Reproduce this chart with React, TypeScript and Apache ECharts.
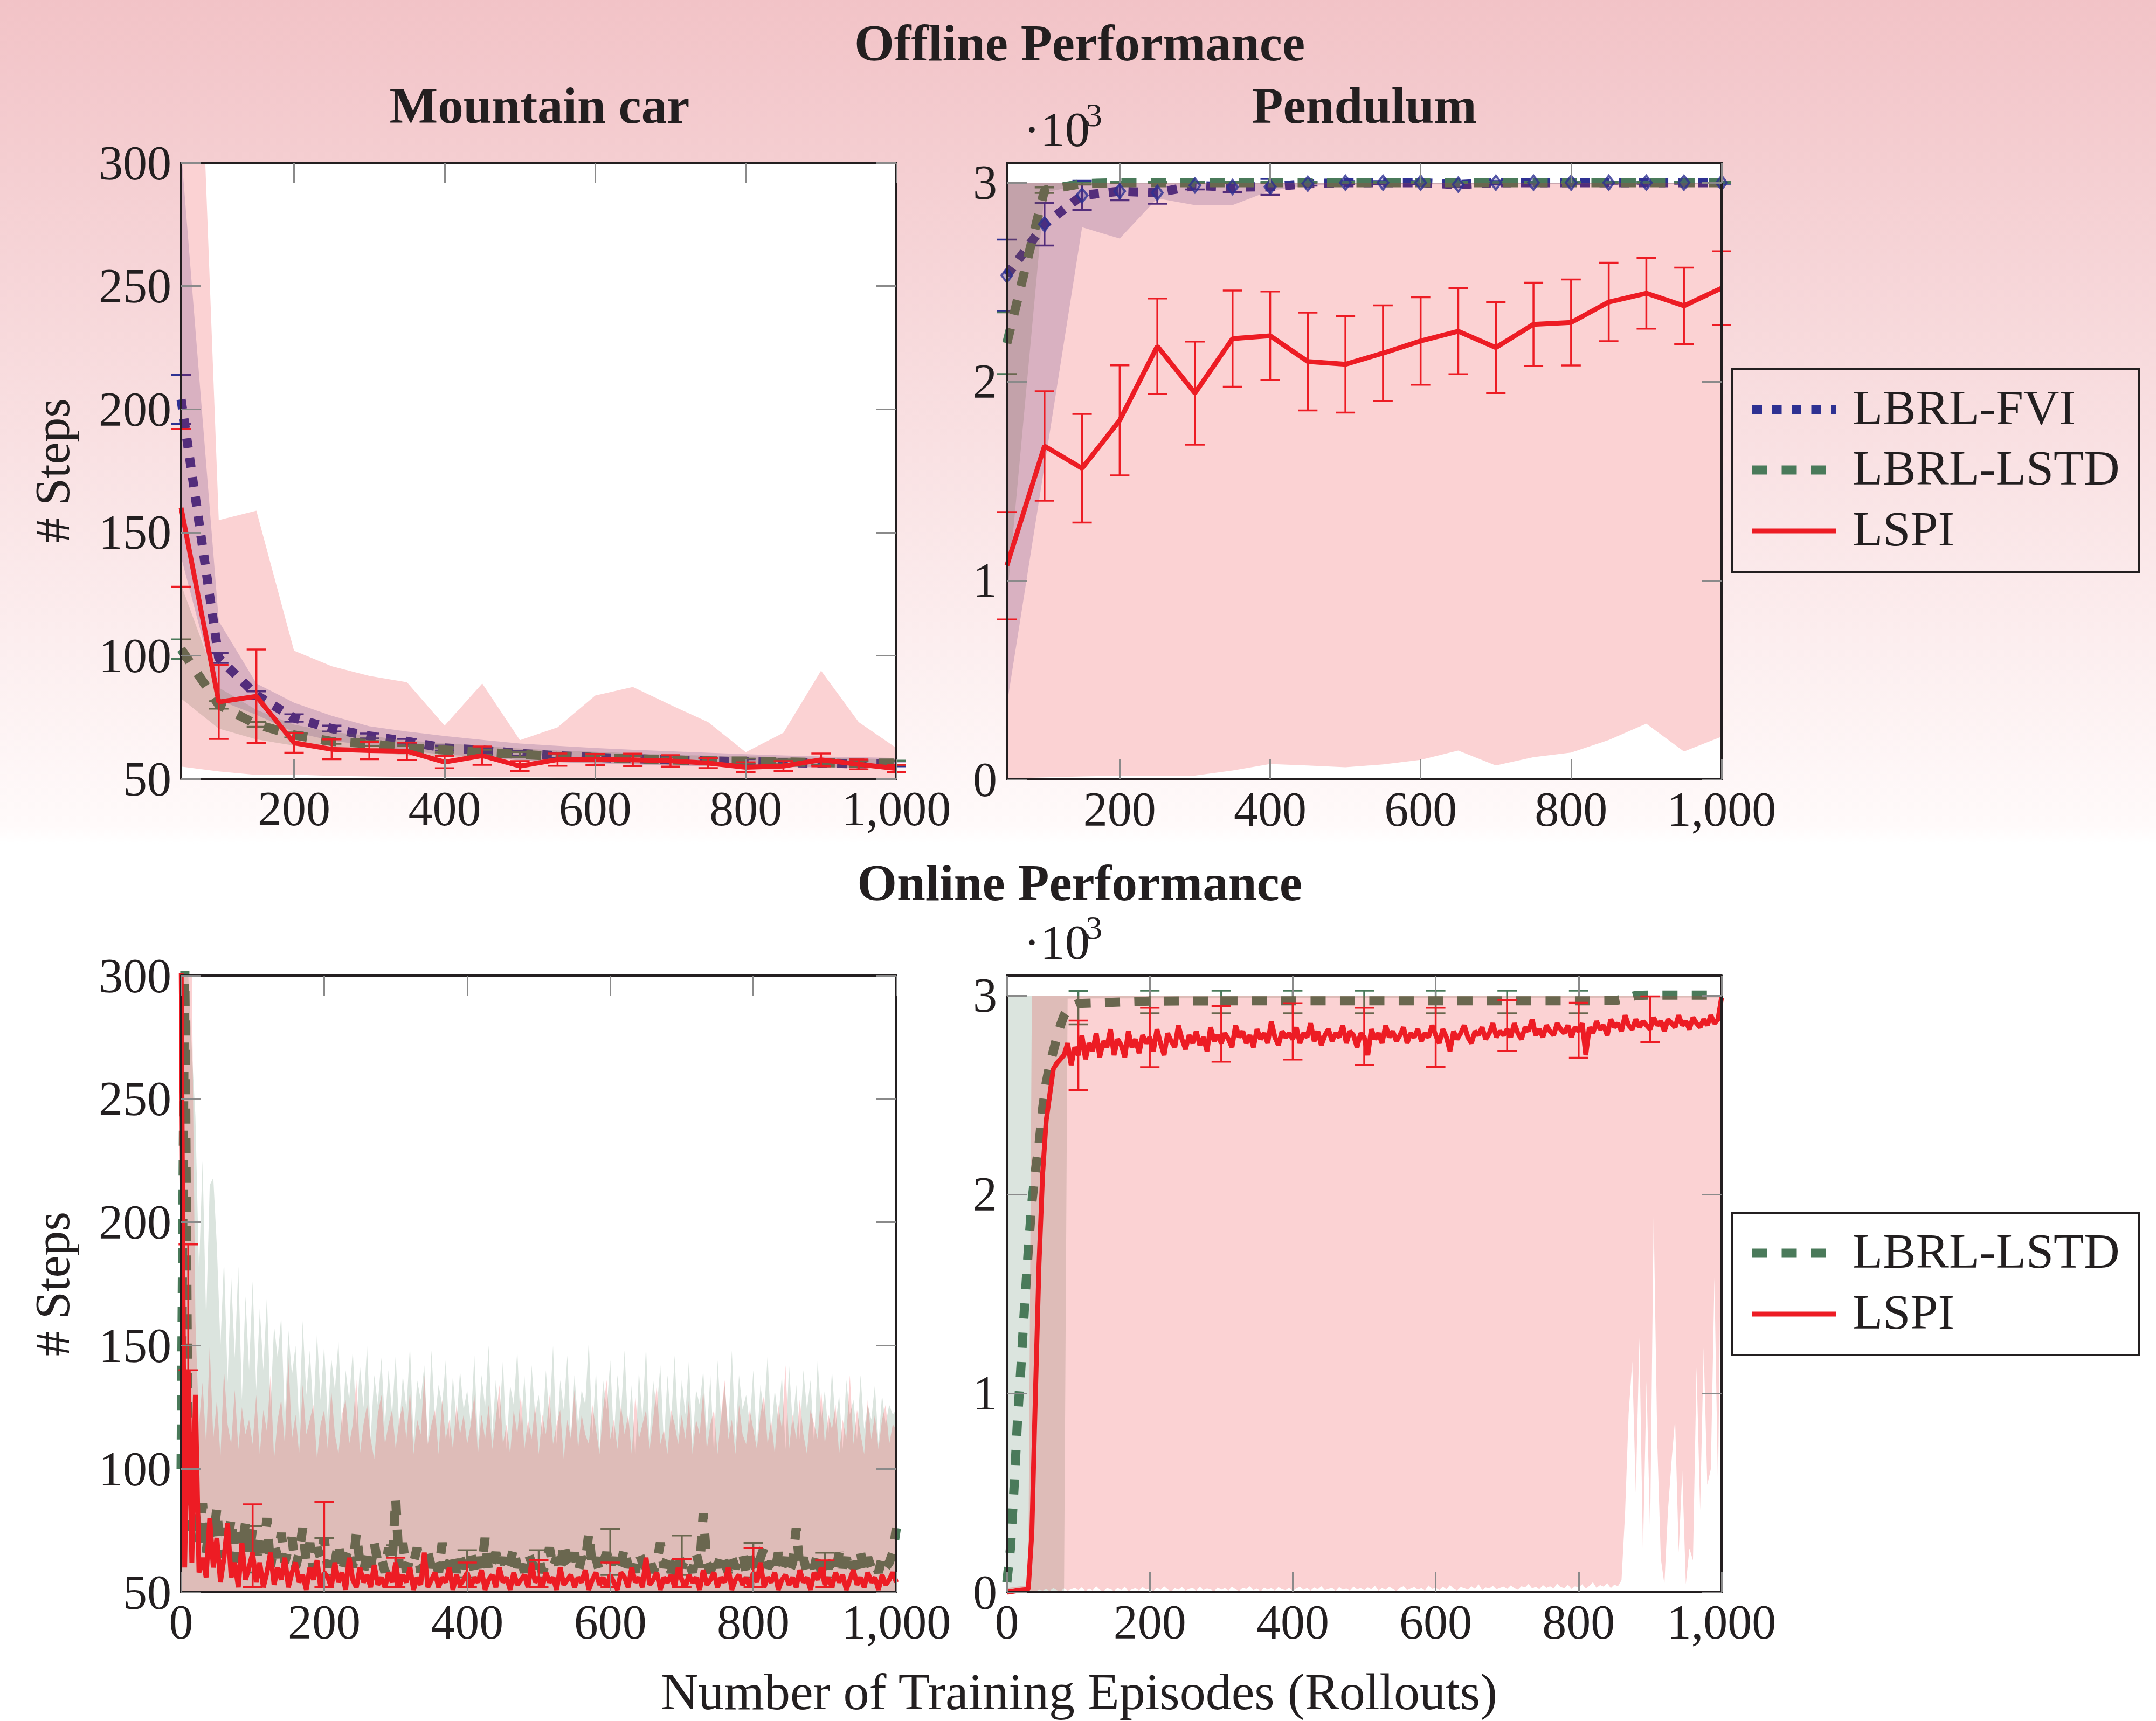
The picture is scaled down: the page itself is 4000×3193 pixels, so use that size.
import React, { useEffect, useRef } from "react";
import * as echarts from "echarts";

const INK = "#231f20";
const NAVY = "#2e3192";
const GREEN = "#4a7a5a";
const RED = "#ed1c24";
const TICK_GRAY = "#8a8a8a";
const SERIF = '"Liberation Serif", "Times New Roman", serif';
const FVI_BAND = "rgba(46,49,146,0.2)";
const LSTD_BAND = "rgba(74,122,90,0.2)";
const LSPI_BAND = "rgba(237,28,36,0.2)";

// ---------- Offline (x = 50..1000 step 50) ----------
const offX = [50, 100, 150, 200, 250, 300, 350, 400, 450, 500, 550, 600, 650, 700, 750, 800, 850, 900, 950, 1000];

// Mountain car, offline
const mcFvi = [204, 99, 84, 74.7, 70.4, 67.4, 65.2, 62.5, 61.7, 60.3, 59.4, 58.7, 58.2, 57.7, 57.3, 57, 56.6, 56.4, 56.1, 56.1];
const mcFviErr = [10, 2, 1.5, 1.5, 1.2, 1, 1, 1, 1, 1, 1, 1, 1, 1, 1, 1, 1, 1, 1, 1];
const mcFviUp = [305, 114, 88.7, 80.9, 75.6, 71.3, 69.2, 67.4, 65.8, 64.3, 63.4, 62.5, 61.8, 61.2, 60.6, 60, 59.5, 59.1, 58.8, 58.5];
const mcFviLo = [140, 82, 76, 69, 65.5, 63.5, 61.5, 59.8, 59, 57.5, 56.8, 56.2, 55.8, 55.4, 55.2, 55, 54.8, 54.6, 54.4, 54.2];
const mcLstd = [102.6, 80, 72.1, 67.8, 65.2, 64.3, 62.5, 61.7, 60.8, 59.9, 59.1, 58.7, 58.2, 57.7, 57.3, 57.2, 56.9, 56.6, 56.4, 56.4];
const mcLstdErr = [4, 1.5, 1, 1, 1, 1, 1, 1, 1, 1, 1, 1, 1, 1, 1, 1, 1, 1, 1, 1];
const mcLstdUp = [128.8, 87, 78, 72, 69, 67.5, 65.5, 64.5, 63.3, 62.3, 61.5, 61, 60.4, 59.8, 59.4, 59.2, 58.8, 58.5, 58.2, 58];
const mcLstdLo = [82.6, 70.4, 66, 63.5, 61.5, 61, 59.5, 58.8, 58.3, 57.6, 56.8, 56.5, 56, 55.6, 55.2, 55.2, 55, 54.7, 54.6, 54.6];
const mcLspi = [160, 81.2, 83.5, 64.6, 62, 61.5, 61.2, 56.8, 59.4, 55.2, 57.8, 57.8, 57.7, 57.3, 56.4, 54.7, 55.2, 57.7, 55.9, 54.2];
const mcLspiErr = [32, 15, 19, 4, 4, 3.5, 3.5, 2.5, 3.7, 2, 2.5, 2.3, 2.5, 2.3, 2, 2, 2, 2.6, 2, 1.5];
const mcLspiUp = [560, 155, 158.8, 102, 95.7, 91.8, 89.2, 71.6, 88.7, 65.7, 70.9, 83.8, 87.3, 80, 73, 60.8, 68.7, 93.9, 73, 62.5];
const mcLspiLo = [55, 53, 51.6, 51.7, 51.2, 51, 50.8, 50.8, 50.6, 50.6, 50.5, 50.5, 50.5, 50.5, 50.5, 50.4, 50.4, 50.3, 50.3, 50.3];

// Pendulum, offline (steps)
const pdFvi = [2534, 2791, 2936, 2957, 2949, 2986, 2978, 2979, 2995, 3000, 3000, 3000, 2990, 3000, 3000, 3000, 3000, 3000, 3000, 3000];
const pdFviErr = [180, 107, 73, 45, 55, 20, 25, 40, 10, 8, 8, 8, 10, 8, 6, 6, 6, 6, 6, 6];
const pdFviLo = [374, 1575, 2776, 2719, 2921, 2887, 2887, 2960, 2985, 2992, 2992, 2992, 2990, 2992, 2992, 2992, 2992, 2992, 2992, 2992];
const pdLstd = [2193, 2962, 2995, 3000, 3000, 3000, 3000, 3000, 3000, 3000, 3000, 3000, 3000, 3000, 3000, 3000, 3000, 3000, 3000, 3000];
const pdLstdErr = [155, 14, 5, 3, 3, 3, 3, 3, 3, 3, 3, 3, 3, 3, 3, 3, 3, 3, 3, 3];
const pdLstdLo = [900, 2950, 2990, 2995, 2995, 2995, 2995, 2995, 2995, 2995, 2995, 2995, 2995, 2995, 2995, 2995, 2995, 2995, 2995, 2995];
const pdLspi = [1074, 1676, 1564, 1805, 2178, 1942, 2216, 2230, 2101, 2087, 2143, 2204, 2253, 2171, 2288, 2297, 2400, 2444, 2381, 2470];
const pdLspiErr = [270, 275, 273, 277, 240, 259, 242, 223, 246, 243, 240, 220, 216, 229, 209, 216, 197, 178, 192, 185];
const pdLspiLo = [5, 10, 15, 19, 19, 19, 45, 77, 70, 61, 75, 98, 145, 70, 112, 135, 198, 280, 140, 215];
const pdBandUp = [3000, 3000, 3000, 3000, 3000, 3000, 3000, 3000, 3000, 3000, 3000, 3000, 3000, 3000, 3000, 3000, 3000, 3000, 3000, 3000];

// ---------- Online (sampled every 5 episodes, 0..1000) ----------
const onStep = 5;
const onX = Array.from({ length: 201 }, (_, i) => i * onStep);

// Mountain car, online
const blLstdUp = [
  310, 310, 300, 270, 243, 180, 225, 160, 215, 218, 190, 150, 185, 135, 178, 145, 182, 128, 170, 140,
  176, 132, 165, 140, 170, 125, 158, 145, 162, 120, 156, 138, 150, 118, 160, 130, 148, 122, 155, 128,
  150, 120, 145, 132, 152, 115, 140, 128, 148, 118, 142, 125, 150, 112, 138, 126, 145, 118, 140, 122,
  146, 116, 138, 124, 150, 112, 136, 128, 142, 110, 148, 120, 134, 126, 144, 112, 138, 118, 140, 124,
  132, 118, 146, 110, 138, 125, 150, 114, 136, 120, 144, 108, 134, 126, 148, 116, 138, 112, 142, 122,
  130, 114, 140, 120, 150, 110, 136, 124, 146, 112, 138, 118, 132, 126, 152, 114, 140, 108, 136, 124,
  144, 112, 138, 122, 148, 116, 134, 104, 140, 120, 150, 112, 136, 124, 142, 110, 138, 118, 146, 114,
  136, 122, 144, 110, 132, 126, 140, 114, 138, 106, 144, 120, 134, 116, 148, 112, 138, 124, 130, 118,
  140, 110, 134, 122, 146, 114, 132, 120, 138, 108, 142, 118, 134, 112, 140, 124, 136, 110, 144, 120,
  132, 114, 140, 118, 130, 108, 136, 122, 128, 112, 138, 116, 126, 120, 134, 110, 130, 118, 126, 122,
  124,
];
const blLspiUp = [
  310, 310, 310, 300, 160, 118, 135, 110, 150, 112, 128, 105, 140, 118, 110, 132, 108, 125, 114, 120,
  110, 130, 106, 124, 115, 138, 104, 120, 128, 110, 145, 112, 122, 106, 134, 114, 120, 126, 104, 118,
  124, 108, 132, 114, 106, 122, 128, 110, 118, 136, 106, 118, 126, 112, 104, 122, 130, 110, 118, 124,
  108, 120, 126, 112, 132, 106, 120, 114, 138, 110, 118, 124, 106, 128, 112, 120, 108, 126, 114, 122,
  110, 118, 130, 106, 122, 112, 126, 108, 120, 134, 110, 118, 106, 124, 114, 130, 108, 120, 112, 126,
  106, 122, 114, 130, 110, 118, 124, 104, 120, 112, 132, 108, 122, 114, 110, 126, 116, 106, 124, 136,
  112, 120, 108, 126, 114, 122, 106, 130, 112, 118, 124, 108, 120, 134, 110, 116, 106, 124, 118, 110,
  122, 112, 128, 106, 120, 114, 132, 108, 118, 124, 106, 122, 136, 112, 120, 106, 126, 114, 110, 124,
  116, 108, 122, 130, 110, 120, 106, 126, 116, 142, 108, 122, 112, 128, 114, 106, 124, 118, 112, 132,
  110, 122, 116, 126, 106, 120, 112, 138, 110, 124, 114, 106, 128, 112, 122, 108, 120, 126, 110, 118,
  116,
];
const blBandFloorX = [0, 1000];
const blBandFloor = [50, 50];
const blLstd = [
  100, 310, 90, 75, 82, 70, 86, 66, 78, 72, 84, 64, 76, 70, 80, 62, 74, 68, 78, 65,
  76, 62, 72, 66, 80, 60, 70, 64, 74, 62, 68, 72, 60, 66, 76, 62, 70, 58, 68, 64,
  72, 60, 66, 62, 70, 58, 64, 68, 60, 74, 62, 58, 66, 60, 70, 62, 64, 58, 68, 62,
  88, 60, 70, 58, 64, 62, 68, 58, 62, 66, 60, 64, 58, 70, 60, 62, 66, 58, 64, 60,
  62, 66, 58, 64, 60, 72, 58, 62, 66, 60, 64, 58, 62, 68, 60, 64, 58, 66, 62, 60,
  64, 58, 62, 68, 60, 64, 58, 70, 62, 60, 66, 58, 64, 62, 74, 60, 64, 58, 62, 66,
  60, 64, 58, 62, 68, 60, 64, 58, 66, 62, 60, 64, 58, 62, 70, 60, 64, 58, 62, 66,
  60, 64, 62, 58, 66, 60, 82, 62, 58, 64, 60, 66, 62, 58, 64, 60, 62, 66, 58, 64,
  62, 58, 64, 68, 60, 62, 58, 66, 60, 64, 58, 62, 76, 60, 64, 58, 62, 60, 66, 58,
  64, 60, 62, 58, 66, 60, 64, 58, 62, 60, 66, 58, 64, 60, 62, 58, 64, 60, 62, 66,
  76,
];
const blLspi = [
  310, 60, 140, 62, 130, 58, 64, 56, 80, 60, 72, 54, 64, 78, 56, 62, 52, 70, 55, 60,
  66, 54, 62, 52, 58, 66, 53, 60, 55, 64, 52, 58, 62, 54, 57, 51, 60, 55, 63, 52,
  58, 56, 52, 62, 54, 58, 51, 64, 55, 52, 60, 54, 57, 52, 61, 53, 56, 52, 58, 54,
  62, 52, 57, 54, 60, 51, 56, 53, 66, 52, 55, 58, 52, 56, 54, 60, 51, 57, 53, 55,
  58, 52, 56, 54, 59, 51, 55, 57, 52, 60, 54, 56, 51, 58, 53, 55, 57, 52, 62, 54,
  56, 52, 58, 54, 56, 51, 60, 53, 55, 57, 52, 56, 54, 59, 51, 55, 58, 53, 56, 52,
  57, 54, 51, 58, 56, 52, 60, 54, 56, 52, 64, 53, 55, 58, 51, 56, 54, 57, 52, 60,
  55, 52, 57, 54, 56, 51, 59, 53, 55, 58, 52, 56, 54, 60, 51, 55, 57, 53, 56, 52,
  58, 54, 62, 52, 56, 54, 58, 51, 55, 57, 53, 56, 52, 59, 54, 56, 51, 58, 55, 60,
  53, 56, 52, 58, 54, 57, 51, 55, 59, 53, 56, 52, 58, 54, 56, 51, 57, 53, 55, 58,
  54,
];
const blErrX = [100, 200, 300, 400, 500, 600, 700, 800, 900];
const blLstdErrLo = [58, 57, 57, 56, 56, 57, 57, 56, 56];
const blLstdErrHi = [76.8, 72, 69, 67, 67, 75.6, 73, 70, 66];
const blLspiErrX = [10, 100, 200, 300, 400, 500, 600, 700, 800, 900];
const blLspiErrLo = [140, 52, 52, 52, 52, 52, 52, 52, 52, 52];
const blLspiErrHi = [191, 85.6, 86.6, 64, 62, 63, 62, 63.4, 68, 62.9];

// Pendulum, online (steps)
const brLstdX = [0, 5, 10, 15, 20, 25, 30, 35, 40, 45, 50, 55, 60, 65, 70, 75, 80, 85, 90, 95, 100, 200, 300, 400, 500, 600, 700, 800, 850, 860, 870, 880, 900, 1000];
const brLstd = [50, 220, 520, 870, 1150, 1450, 1720, 1960, 2120, 2250, 2430, 2560, 2650, 2720, 2790, 2850, 2900, 2925, 2945, 2952, 2960, 2972, 2973, 2973, 2973, 2973, 2973, 2973, 2974, 2980, 2990, 3000, 3002, 3002];
const brLstdBandX = [0, 80, 85, 1000];
const brLstdBandUp = [3000, 3000, 3000, 3000];
const brLstdBandLo = [0, 0, 2985, 2990];
const brLspi = [
  0, 2, 5, 8, 10, 12, 15, 300, 1000, 1650, 2100, 2370, 2500, 2630, 2660, 2680, 2700, 2760, 2650, 2740,
  2700, 2800, 2680, 2760, 2720, 2810, 2690, 2770, 2740, 2830, 2700, 2780, 2750, 2690, 2820, 2740, 2780, 2710, 2800, 2760,
  2790, 2720, 2830, 2760, 2700, 2810, 2770, 2740, 2850, 2780, 2730, 2800, 2760, 2820, 2750, 2790, 2720, 2840, 2770, 2800,
  2760, 2810, 2780, 2740, 2850, 2790, 2820, 2760, 2800, 2740, 2830, 2780, 2810, 2760, 2870, 2790, 2750, 2820, 2790, 2810,
  2780, 2840, 2760, 2810, 2790, 2860, 2770, 2820, 2750, 2800, 2830, 2770, 2810, 2790, 2850, 2760, 2820, 2800, 2740, 2810,
  2790, 2700, 2830, 2780, 2810, 2760, 2850, 2790, 2820, 2770, 2800, 2840, 2760, 2810, 2790, 2830, 2770, 2810, 2790, 2850,
  2800, 2760, 2830, 2790, 2720, 2820, 2780, 2810, 2850, 2790, 2760, 2820, 2800, 2840, 2780, 2810, 2860, 2790, 2820, 2800,
  2830, 2790, 2860, 2810, 2780, 2840, 2820, 2880, 2800, 2830, 2790, 2850, 2820, 2800, 2860, 2830, 2810, 2850, 2790, 2840,
  2820, 2860, 2700, 2840, 2810, 2870, 2830, 2850, 2800, 2880, 2840, 2860, 2820, 2900, 2850, 2830, 2880, 2840, 2870, 2850,
  2830, 2890, 2850, 2870, 2820, 2880, 2860, 2840, 2900, 2850, 2870, 2830, 2890, 2860, 2840, 2880, 2850, 2900, 2860, 2880,
  2990,
];
const brLspiBandUpX = [0, 30, 35, 1000];
const brLspiBandUp = [20, 35, 3000, 3000];
const brLspiBandLo = [
  0, 0, 0, 0, 0, 0, 0, 0, 5, 12, 8, 15, 6, 20, 10, 4, 18, 8, 14, 22,
  10, 25, 5, 18, 8, 30, 12, 4, 20, 15, 6, 22, 10, 28, 5, 14, 20, 8, 26, 12,
  18, 6, 24, 10, 30, 14, 4, 20, 12, 26, 8, 16, 22, 6, 28, 10, 18, 14, 4, 24,
  12, 20, 8, 28, 14, 6, 22, 16, 30, 10, 18, 4, 24, 12, 20, 8, 26, 14, 10, 22,
  6, 18, 28, 12, 20, 8, 24, 14, 30, 10, 16, 22, 6, 26, 12, 18, 8, 28, 14, 20,
  10, 24, 14, 32, 8, 20, 12, 28, 16, 6, 22, 30, 10, 18, 26, 12, 20, 8, 34, 16,
  22, 10, 28, 14, 36, 18, 8, 26, 20, 12, 30, 16, 40, 10, 24, 18, 32, 14, 22, 28,
  16, 34, 20, 12, 30, 24, 42, 18, 28, 14, 36, 22, 30, 18, 44, 26, 20, 38, 16, 30,
  24, 40, 18, 32, 50, 22, 36, 28, 46, 20, 38, 30, 60, 400, 900, 1160, 500, 1280, 200, 1060,
  290, 1900, 760, 170, 40, 410, 660, 870, 200, 610, 40, 220, 160, 1130, 410, 1230, 540, 620, 1580, 520,
  2110,
];
const brErrX = [100, 200, 300, 400, 500, 600, 700, 800, 900];
const brLspiErrLo = [2524, 2639, 2667, 2678, 2651, 2640, 2720, 2687, 2766];
const brLspiErrHi = [2874, 2938, 2947, 2961, 2938, 2938, 2977, 2963, 2996];
const brLstdErrX = [100, 200, 300, 400, 500, 600, 700, 800];
const brLstdErrLo = [2855, 2910, 2910, 2910, 2910, 2910, 2910, 2910];
const brLstdErrHi = [3022, 3024, 3024, 3024, 3024, 3024, 3024, 3024];

// ---------- ticks ----------
const xTicksOffline = [200, 400, 600, 800, 1000];
const xTicksOnline = [0, 200, 400, 600, 800, 1000];
const yTicksMc = [50, 100, 150, 200, 250, 300];
const yTicksPd = [0, 1000, 2000, 3000];

const GRIDS = [
  { left: 336, top: 302, width: 1327, height: 1143 },
  { left: 1868, top: 302, width: 1326, height: 1144 },
  { left: 336, top: 1810, width: 1327, height: 1144 },
  { left: 1868, top: 1810, width: 1326, height: 1144 },
];

const fmtThousands = (v: number) => (v >= 1000 ? v.toLocaleString("en-US") : String(v));
const fmtKilo = (v: number) => String(v / 1000);

function clipToRect(points: number[][], r: any) {
  const x0 = r.x, x1 = r.x + r.width, y0 = r.y, y1 = r.y + r.height;
  const edges = [
    { inside: (p: number[]) => p[0] >= x0, cut: (a: number[], b: number[]) => [x0, a[1] + ((x0 - a[0]) / (b[0] - a[0])) * (b[1] - a[1])] },
    { inside: (p: number[]) => p[0] <= x1, cut: (a: number[], b: number[]) => [x1, a[1] + ((x1 - a[0]) / (b[0] - a[0])) * (b[1] - a[1])] },
    { inside: (p: number[]) => p[1] >= y0, cut: (a: number[], b: number[]) => [a[0] + ((y0 - a[1]) / (b[1] - a[1])) * (b[0] - a[0]), y0] },
    { inside: (p: number[]) => p[1] <= y1, cut: (a: number[], b: number[]) => [a[0] + ((y1 - a[1]) / (b[1] - a[1])) * (b[0] - a[0]), y1] },
  ];
  let out = points;
  for (const e of edges) {
    const input = out;
    out = [];
    if (!input.length) break;
    let prev = input[input.length - 1];
    for (const cur of input) {
      if (e.inside(cur)) {
        if (!e.inside(prev)) out.push(e.cut(prev, cur));
        out.push(cur);
      } else if (e.inside(prev)) {
        out.push(e.cut(prev, cur));
      }
      prev = cur;
    }
  }
  return out;
}

function bandSeries(gi: number, upX: number[], up: number[], loX: number[], lo: number[], fill: string) {
  return {
    type: "custom",
    xAxisIndex: 2 * gi,
    yAxisIndex: 2 * gi,
    silent: true,
    clip: true,
    data: [[loX[0], lo[0]]],
    renderItem: (params: any, api: any) => {
      const pts: number[][] = [];
      for (let i = 0; i < upX.length; i++) pts.push(api.coord([upX[i], up[i]]));
      for (let i = loX.length - 1; i >= 0; i--) pts.push(api.coord([loX[i], lo[i]]));
      return { type: "polygon", shape: { points: clipToRect(pts, params.coordSys) }, style: { fill } };
    },
  };
}

function errSeries(gi: number, xs: number[], lo: number[], hi: number[], stroke: string) {
  return {
    type: "custom",
    xAxisIndex: 2 * gi,
    yAxisIndex: 2 * gi,
    silent: true,
    data: xs.map((x, i) => [x, lo[i], hi[i]]),
    encode: { x: 0, y: [1, 2] },
    renderItem: (_p: any, api: any) => {
      const x = api.value(0);
      const a = api.coord([x, api.value(1)]);
      const b = api.coord([x, api.value(2)]);
      const hw = 18;
      const st = () => ({ stroke, lineWidth: 3.5 });
      return {
        type: "group",
        children: [
          { type: "line", shape: { x1: a[0], y1: a[1], x2: b[0], y2: b[1] }, style: st() },
          { type: "line", shape: { x1: a[0] - hw, y1: a[1], x2: a[0] + hw, y2: a[1] }, style: st() },
          { type: "line", shape: { x1: b[0] - hw, y1: b[1], x2: b[0] + hw, y2: b[1] }, style: st() },
        ],
      };
    },
  };
}

const pm = (m: number[], e: number[], s: number) => m.map((v, i) => v + s * e[i]);

function lineSeries(gi: number, xs: number[], ys: number[], color: string, width: number, dash?: number[]) {
  return {
    type: "line",
    xAxisIndex: 2 * gi,
    yAxisIndex: 2 * gi,
    silent: true,
    symbol: "none",
    showSymbol: false,
    data: xs.map((x, i) => [x, ys[i]]),
    lineStyle: { color, width, type: dash || "solid", cap: "butt" },
  };
}

const FVI_DASH = [18, 18.5];
const LSTD_DASH = [28, 26.5];

function xAxesFor(gi: number, min: number, ticks: number[]) {
  const common: any = {
    gridIndex: gi, type: "value", min, max: 1000, z: 20,
    splitLine: { show: false },
    axisLine: { show: true, onZero: false, lineStyle: { color: INK, width: 4 } },
    axisTick: { show: true, inside: true, length: 37, lineStyle: { color: TICK_GRAY, width: 3 }, customValues: ticks },
  };
  return [
    { ...common, position: "bottom", axisLabel: { show: true, customValues: ticks, margin: 10, fontSize: 90, fontFamily: SERIF, color: INK, formatter: fmtThousands } },
    { ...common, position: "top", axisLabel: { show: false } },
  ];
}

function yAxesFor(gi: number, min: number, max: number, ticks: number[], fmt: any) {
  const common: any = {
    gridIndex: gi, type: "value", min, max, z: 20,
    splitLine: { show: false },
    axisLine: { show: true, onZero: false, lineStyle: { color: INK, width: 4 } },
    axisTick: { show: true, inside: true, length: 37, lineStyle: { color: TICK_GRAY, width: 3 }, customValues: ticks },
  };
  return [
    { ...common, position: "left", axisLabel: { show: true, customValues: ticks, margin: 18, fontSize: 90, fontFamily: SERIF, color: INK, formatter: fmt } },
    { ...common, position: "right", axisLabel: { show: false } },
  ];
}

function txt(x: number, y: number, text: string, size: number, opts: any = {}) {
  return {
    type: "text", x, y, silent: true, rotation: opts.rotation || 0,
    style: {
      text, fill: INK, fontSize: size, fontFamily: SERIF, fontWeight: opts.bold ? "bold" : "normal",
      align: opts.align || "center", verticalAlign: "middle",
    },
  };
}

function legendItem(y: number, label: string, color: string, width: number, dash?: number[]) {
  return [
    { type: "line", silent: true, shape: { x1: 3251, y1: y, x2: 3407, y2: y }, style: { stroke: color, lineWidth: width, lineDash: dash || null, lineCap: "butt" } },
    txt(3437, y - 4, label, 92, { align: "left" }),
  ];
}

function buildOption() {
  const RW = 9; // LSPI line width
  const ordered: any[] = [
    // Mountain car offline
    bandSeries(0, offX, mcFviUp, offX, mcFviLo, FVI_BAND),
    errSeries(0, offX, pm(mcFvi, mcFviErr, -1), pm(mcFvi, mcFviErr, 1), NAVY),
    lineSeries(0, offX, mcFvi, NAVY, 17, FVI_DASH),
    bandSeries(0, offX, mcLstdUp, offX, mcLstdLo, LSTD_BAND),
    errSeries(0, offX, pm(mcLstd, mcLstdErr, -1), pm(mcLstd, mcLstdErr, 1), GREEN),
    lineSeries(0, offX, mcLstd, GREEN, 17, LSTD_DASH),
    bandSeries(0, offX, mcLspiUp, offX, mcLspiLo, LSPI_BAND),
    errSeries(0, offX, pm(mcLspi, mcLspiErr, -1), pm(mcLspi, mcLspiErr, 1), RED),
    lineSeries(0, offX, mcLspi, RED, RW),
    // Pendulum offline
    bandSeries(1, offX, pdBandUp, offX, pdFviLo, FVI_BAND),
    errSeries(1, offX, pm(pdFvi, pdFviErr, -1), pm(pdFvi, pdFviErr, 1), NAVY),
    lineSeries(1, offX, pdFvi, NAVY, 17, FVI_DASH),
    bandSeries(1, offX, pdBandUp, offX, pdLstdLo, LSTD_BAND),
    errSeries(1, offX, pm(pdLstd, pdLstdErr, -1), pm(pdLstd, pdLstdErr, 1), GREEN),
    lineSeries(1, offX, pdLstd, GREEN, 17, LSTD_DASH),
    bandSeries(1, offX, pdBandUp, offX, pdLspiLo, LSPI_BAND),
    errSeries(1, offX, pm(pdLspi, pdLspiErr, -1), pm(pdLspi, pdLspiErr, 1), RED),
    lineSeries(1, offX, pdLspi, RED, RW),
    {
      type: "scatter", xAxisIndex: 2, yAxisIndex: 2, silent: true,
      data: offX.map((x, i) => [x, pdFvi[i]]),
      symbol: "diamond", symbolSize: [20, 26],
      itemStyle: { color: "rgba(46,49,146,0.3)", borderColor: NAVY, borderWidth: 4 },
    },
    // Mountain car online
    bandSeries(2, onX, blLstdUp, blBandFloorX, blBandFloor, LSTD_BAND),
    errSeries(2, blErrX, blLstdErrLo, blLstdErrHi, GREEN),
    lineSeries(2, onX, blLstd, GREEN, 17, LSTD_DASH),
    bandSeries(2, onX, blLspiUp, blBandFloorX, blBandFloor, LSPI_BAND),
    errSeries(2, blLspiErrX, blLspiErrLo, blLspiErrHi, RED),
    lineSeries(2, onX, blLspi, RED, RW),
    // Pendulum online
    bandSeries(3, brLstdBandX, brLstdBandUp, brLstdBandX, brLstdBandLo, LSTD_BAND),
    errSeries(3, brLstdErrX, brLstdErrLo, brLstdErrHi, GREEN),
    lineSeries(3, brLstdX, brLstd, GREEN, 17, LSTD_DASH),
    bandSeries(3, brLspiBandUpX, brLspiBandUp, onX, brLspiBandLo, LSPI_BAND),
    errSeries(3, brErrX, brLspiErrLo, brLspiErrHi, RED),
    lineSeries(3, onX, brLspi, RED, RW),
  ];
  // explicit drawing order: bands tint the marks drawn before them
  const series = ordered.map((s, i) => ({ ...s, z: 1 + i * 0.25 }));

  const bg = {
    type: "rect", silent: true, z: -100,
    shape: { x: 0, y: 0, width: 4000, height: 3193 },
    style: {
      fill: new echarts.graphic.LinearGradient(0, 0, 0, 1, [
        { offset: 0, color: "#f2c3c7" },
        { offset: 0.48, color: "#fffafa" },
        { offset: 0.49, color: "#ffffff" },
        { offset: 1, color: "#ffffff" },
      ]),
    },
  };

  const elements: any[] = [
    bg,
    txt(2003, 80, "Offline Performance", 95, { bold: true }),
    txt(1001, 196, "Mountain car", 95, { bold: true }),
    txt(2531, 196, "Pendulum", 95, { bold: true }),
    txt(2003, 1638, "Online Performance", 95, { bold: true }),
    txt(1899, 240, "·10", 92, { align: "left" }),
    txt(2014, 213, "3", 62, { align: "left" }),
    txt(1899, 1748, "·10", 92, { align: "left" }),
    txt(2014, 1721, "3", 62, { align: "left" }),
    txt(2002, 3138, "Number of Training Episodes (Rollouts)", 96),
    txt(97, 873, "# Steps", 92, { rotation: Math.PI / 2 }),
    txt(97, 2382, "# Steps", 92, { rotation: Math.PI / 2 }),
    { type: "rect", silent: true, shape: { x: 3214, y: 685, width: 754, height: 377 }, style: { fill: "none", stroke: INK, lineWidth: 4 } },
    ...legendItem(760, "LBRL-FVI", NAVY, 17, FVI_DASH),
    ...legendItem(872, "LBRL-LSTD", GREEN, 17, LSTD_DASH),
    ...legendItem(985, "LSPI", RED, 9),
    { type: "rect", silent: true, shape: { x: 3214, y: 2251, width: 754, height: 263 }, style: { fill: "none", stroke: INK, lineWidth: 4 } },
    ...legendItem(2325, "LBRL-LSTD", GREEN, 17, LSTD_DASH),
    ...legendItem(2438, "LSPI", RED, 9),
  ];

  return {
    animation: false,
    grid: GRIDS.map((g) => ({ ...g, show: true, backgroundColor: "#ffffff", borderWidth: 0, containLabel: false, outerBoundsMode: "none" })),
    xAxis: [
      ...xAxesFor(0, 50, xTicksOffline),
      ...xAxesFor(1, 50, xTicksOffline),
      ...xAxesFor(2, 0, xTicksOnline),
      ...xAxesFor(3, 0, xTicksOnline),
    ],
    yAxis: [
      ...yAxesFor(0, 50, 300, yTicksMc, fmtThousands),
      ...yAxesFor(1, 0, 3100, yTicksPd, fmtKilo),
      ...yAxesFor(2, 50, 300, yTicksMc, fmtThousands),
      ...yAxesFor(3, 0, 3100, yTicksPd, fmtKilo),
    ],
    series,
    graphic: { elements },
  };
}

export default function App() {
  const ref = useRef<HTMLDivElement>(null);
  useEffect(() => {
    document.body.style.margin = "0";
    const chart = echarts.init(ref.current as HTMLDivElement, undefined, { renderer: "svg", width: 4000, height: 3193 });
    chart.setOption(buildOption() as any);
    return () => chart.dispose();
  }, []);
  return <div ref={ref} style={{ width: 4000, height: 3193 }} />;
}
